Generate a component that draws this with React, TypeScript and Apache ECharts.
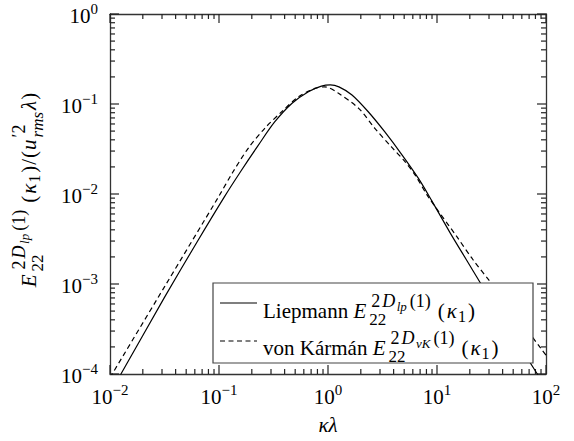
import React, { useEffect, useRef } from 'react';
import * as echarts from 'echarts';

// ---- data ----
const xMin = 0.01;
const xMax = 100;
const yMin = 1e-4;
const yMax = 1;

const liepKappa = [0.01, 0.0126, 0.0316, 0.0631, 0.112, 0.158, 0.229, 0.324, 0.468, 0.661, 0.871, 1.05, 1.26, 1.66, 2.34, 3.31, 4.79, 6.76, 8.91, 13.2, 18.6, 25.1, 39.8, 83.2, 100];
const liepE = [6.2e-5, 1.0e-4, 7.1e-4, 2.95e-3, 9.3e-3, 0.0178, 0.0347, 0.0631, 0.102, 0.137, 0.158, 0.163, 0.155, 0.126, 0.082, 0.0492, 0.0271, 0.0149, 8.5e-3, 3.7e-3, 1.86e-3, 1.02e-3, 4.1e-4, 1.0e-4, 6.9e-5];

const vkKappa = [0.01, 0.0316, 0.1, 0.132, 0.186, 0.263, 0.376, 0.537, 0.759, 0.933, 1.23, 1.91, 2.69, 3.8, 5.13, 6.31, 8.32, 15.1, 21.4, 30.9, 50.1, 89.1, 100];
const vkE = [9.1e-5, 9.3e-4, 9.5e-3, 0.017, 0.0324, 0.0537, 0.082, 0.1205, 0.149, 0.155, 0.133, 0.0895, 0.0537, 0.0336, 0.0226, 0.0162, 9.3e-3, 3.4e-3, 1.86e-3, 1.05e-3, 4.9e-4, 1.95e-4, 1.62e-4];

const xDecadeTicks = [0.01, 0.1, 1, 10, 100];
const yDecadeTicks = [1e-4, 1e-3, 1e-2, 0.1, 1];
const minorMultipliers = [2, 3, 4, 5, 6, 7, 8, 9];
const xName = 'κλ';
const legendNames = ['Liepmann ', 'von Kármán '];

// ---- styling ----
const FONT = '"Liberation Serif", "Times New Roman", serif';
const M = 21;
const S = 18;
const SS = 13;
const AXIS_COLOR = '#333';
const MAJOR_LEN = 9;
const MINOR_LEN = 5;

type Piece = { t: string; s: number; it?: boolean; dy: number; k?: number } | { stack: Piece[][]; k?: number };

let measureCtx: CanvasRenderingContext2D | null = null;
function textWidth(t: string, s: number, it?: boolean): number {
  if (!measureCtx) measureCtx = document.createElement('canvas').getContext('2d');
  if (!measureCtx) return t.length * s * 0.5;
  measureCtx.font = `${it ? 'italic ' : ''}${s}px ${FONT}`;
  return measureCtx.measureText(t).width;
}

function layout(items: Piece[], x0: number, out: any[]): number {
  let x = x0;
  for (const p of items) {
    x += p.k || 0;
    if ('stack' in p) {
      let mx = 0;
      for (const row of p.stack) {
        const e = layout(row, x, out);
        mx = Math.max(mx, e - x);
      }
      x += mx;
    } else {
      out.push({
        type: 'text',
        x,
        y: -p.dy - 0.32 * p.s,
        z: 100,
        style: {
          text: p.t,
          fontSize: p.s,
          fontFamily: FONT,
          fontStyle: p.it ? 'italic' : 'normal',
          fill: '#000',
          textAlign: 'left',
          textVerticalAlign: 'middle',
        },
      });
      x += textWidth(p.t, p.s, p.it);
    }
  }
  return x;
}

function spectrumE(sub: string): Piece[] {
  return [
    { t: 'E', s: M, it: true, dy: 0 },
    {
      k: 3,
      stack: [
        [
          { t: '2', s: S, dy: 11, k: 2 },
          { t: 'D', s: S, it: true, dy: 11, k: 2 },
          { t: sub, s: SS, it: true, dy: 7, k: 1.5 },
          { t: '(1)', s: S, dy: 11, k: 3 },
        ],
        [{ t: '22', s: S - 1, dy: -7 }],
      ],
    },
  ];
}
const kappa1: Piece[] = [
  { t: '(', s: M, dy: 0, k: 7 },
  { t: 'κ', s: M, it: true, dy: 0, k: 2 },
  { t: '1', s: S - 2, dy: -4, k: 1 },
  { t: ')', s: M, dy: 0, k: 2 },
];

function expLabel(v: number): string {
  const e = Math.round(Math.log10(v));
  return `{b|10}{s|${e < 0 ? '−' : ''}${Math.abs(e)}}`;
}

function mkRich() {
  return {
    b: { fontSize: M, fontFamily: FONT, color: '#000', verticalAlign: 'bottom' },
    s: { fontSize: 15, fontFamily: FONT, color: '#000', verticalAlign: 'bottom', padding: [0, 0, 10, 0] },
  };
}

function frameAxis(kind: 'x' | 'y', position: string, withLabels: boolean) {
  return {
    type: 'log',
    min: kind === 'x' ? xMin : yMin,
    max: kind === 'x' ? xMax : yMax,
    position,
    splitLine: { show: false },
    axisLine: { show: true, onZero: false, lineStyle: { color: AXIS_COLOR, width: 1.3 } },
    axisTick: { show: false },
    axisLabel: withLabels
      ? { show: true, formatter: expLabel, rich: mkRich(), margin: kind === 'x' ? 8 : 12 }
      : { show: false },
  };
}

// tick marks: [x, y, length, orientation(0 = on x axes, 1 = on y axes)]
function tickData(): number[][] {
  const out: number[][] = [];
  for (const v of xDecadeTicks) {
    out.push([v, yMin, MAJOR_LEN, 0]);
    if (v < xMax) for (const m of minorMultipliers) out.push([v * m, yMin, MINOR_LEN, 0]);
  }
  for (const v of yDecadeTicks) {
    out.push([xMin, v, MAJOR_LEN, 1]);
    if (v < yMax) for (const m of minorMultipliers) out.push([xMin, v * m, MINOR_LEN, 1]);
  }
  return out;
}

export default function App() {
  const ref = useRef<HTMLDivElement>(null);
  useEffect(() => {
    if (!ref.current) return;
    const chart = echarts.init(ref.current, undefined, { renderer: 'svg' });

    const gridL = 110, gridT = 14, gridW = 436, gridH = 360;

    const yTitleEls: any[] = [];
    const yTitleW = layout(
      [
        ...spectrumE('lp'),
        ...kappa1,
        { t: '/', s: M, dy: 0, k: 1 },
        { t: '(', s: M, dy: 0, k: 1 },
        { t: 'u', s: M, it: true, dy: 0, k: 1 },
        { k: 2, stack: [[{ t: '′2', s: S, dy: 11 }], [{ t: 'rms', s: S - 1, it: true, dy: -7 }]] },
        { t: 'λ', s: M, it: true, dy: 0, k: 2 },
        { t: ')', s: M, dy: 0, k: 1 },
      ],
      0,
      yTitleEls
    );

    const leg1: any[] = [];
    layout([{ t: legendNames[0], s: M, dy: 0 }, ...spectrumE('lp'), ...kappa1], 0, leg1);
    const leg2: any[] = [];
    layout([{ t: legendNames[1], s: M, dy: 0 }, ...spectrumE('vK'), ...kappa1], 0, leg2);

    const xBottom: any = frameAxis('x', 'bottom', true);
    xBottom.name = xName;
    xBottom.nameLocation = 'middle';
    xBottom.nameGap = 40;
    xBottom.nameTextStyle = { fontSize: M, fontFamily: FONT, fontStyle: 'italic', color: '#000' };

    const tickStyle = { stroke: '#222', lineWidth: 1.2 };

    chart.setOption({
      animation: false,
      grid: { left: gridL, top: gridT, width: gridW, height: gridH },
      xAxis: [xBottom, frameAxis('x', 'top', false)],
      yAxis: [frameAxis('y', 'left', true), frameAxis('y', 'right', false)],
      series: [
        {
          name: 'ticks',
          type: 'custom',
          xAxisIndex: 0,
          yAxisIndex: 0,
          silent: true,
          clip: false,
          z: 3,
          data: tickData(),
          renderItem: (params: any, api: any) => {
            const len = api.value(2);
            const orient = api.value(3);
            if (orient === 0) {
              const v = api.value(0);
              const b = api.coord([v, yMin]);
              const t = api.coord([v, yMax]);
              return {
                type: 'group',
                children: [
                  { type: 'line', shape: { x1: b[0], y1: b[1], x2: b[0], y2: b[1] - len }, style: tickStyle },
                  { type: 'line', shape: { x1: t[0], y1: t[1], x2: t[0], y2: t[1] + len }, style: tickStyle },
                ],
              };
            }
            const v = api.value(1);
            const l = api.coord([xMin, v]);
            const r = api.coord([xMax, v]);
            return {
              type: 'group',
              children: [
                { type: 'line', shape: { x1: l[0], y1: l[1], x2: l[0] + len, y2: l[1] }, style: tickStyle },
                { type: 'line', shape: { x1: r[0], y1: r[1], x2: r[0] - len, y2: r[1] }, style: tickStyle },
              ],
            };
          },
        },
        {
          name: 'Liepmann',
          type: 'line',
          xAxisIndex: 0,
          yAxisIndex: 0,
          data: liepKappa.map((k, i) => [k, liepE[i]]),
          showSymbol: false,
          smooth: 0.3,
          lineStyle: { color: '#000', width: 1.2, type: 'solid' },
        },
        {
          name: 'von Kármán',
          type: 'line',
          xAxisIndex: 0,
          yAxisIndex: 0,
          data: vkKappa.map((k, i) => [k, vkE[i]]),
          showSymbol: false,
          smooth: 0.3,
          lineStyle: { color: '#000', width: 1.2, type: [5, 3.5] },
        },
      ],
      graphic: [
        {
          type: 'group',
          x: 36,
          y: 190 + yTitleW / 2,
          rotation: Math.PI / 2,
          children: yTitleEls,
        },
        {
          type: 'rect',
          z: 90,
          shape: { x: 213, y: 283, width: 320, height: 80 },
          style: { fill: '#fff', stroke: '#444', lineWidth: 1.2 },
        },
        {
          type: 'line',
          z: 100,
          shape: { x1: 220, y1: 303, x2: 257, y2: 303 },
          style: { stroke: '#000', lineWidth: 1.2 },
        },
        {
          type: 'line',
          z: 100,
          shape: { x1: 220, y1: 341, x2: 257, y2: 341 },
          style: { stroke: '#000', lineWidth: 1.2, lineDash: [5, 3.5] },
        },
        { type: 'group', x: 263, y: 318, z: 100, children: leg1 },
        { type: 'group', x: 263, y: 355, z: 100, children: leg2 },
      ],
    });
    return () => chart.dispose();
  }, []);
  return <div ref={ref} style={{ position: 'absolute', left: 0, top: 0, width: 574, height: 441 }} />;
}
